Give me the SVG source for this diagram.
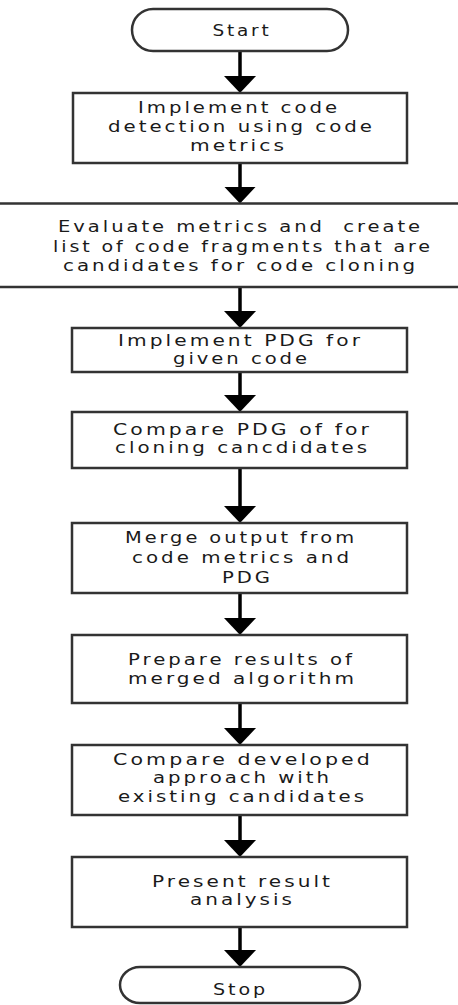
<svg xmlns="http://www.w3.org/2000/svg" width="458" height="1005" viewBox="0 0 458 1005">
<style>
.box{fill:#ffffff;stroke:#333333;stroke-width:2.5}
.term{fill:#ffffff;stroke:#333333;stroke-width:2.5}
.conn{stroke:#000000;stroke-width:3.5;fill:none}
text{font-family:"DejaVu Sans","Liberation Sans",sans-serif;font-size:16.5px;letter-spacing:2.5px;fill:#1a1a1a;text-anchor:middle}
</style>
<defs>
<marker id="arr" markerUnits="userSpaceOnUse" markerWidth="17" markerHeight="32" viewBox="0 0 17 32" refX="9" refY="16" orient="auto">
<path d="M0,0 L17,16 L0,32 Z" fill="#000000"/>
</marker>
</defs>
<rect width="458" height="1005" fill="#ffffff"/>
<g id="connectors">
<line class="conn" x1="240" y1="51" x2="240" y2="85" marker-end="url(#arr)"/>
<line class="conn" x1="240" y1="163" x2="240" y2="195.5" marker-end="url(#arr)"/>
<line class="conn" x1="240" y1="287" x2="240" y2="320" marker-end="url(#arr)"/>
<line class="conn" x1="240" y1="372" x2="240" y2="404" marker-end="url(#arr)"/>
<line class="conn" x1="240" y1="468" x2="240" y2="515" marker-end="url(#arr)"/>
<line class="conn" x1="240" y1="593" x2="240" y2="627" marker-end="url(#arr)"/>
<line class="conn" x1="240" y1="703" x2="240" y2="737" marker-end="url(#arr)"/>
<line class="conn" x1="240" y1="815" x2="240" y2="849" marker-end="url(#arr)"/>
<line class="conn" x1="240" y1="927" x2="240" y2="959" marker-end="url(#arr)"/>
</g>
<g id="start">
<rect class="term" x="132" y="9" width="216" height="42" rx="21" ry="21"/>
<text x="242" y="36" textLength="59" lengthAdjust="spacingAndGlyphs">Start</text>
</g>
<g id="step1">
<rect class="box" x="73" y="93" width="334" height="70"/>
<text x="239" y="113" textLength="202" lengthAdjust="spacingAndGlyphs">Implement code</text>
<text x="241.5" y="131.5" textLength="267" lengthAdjust="spacingAndGlyphs">detection using code</text>
<text x="238.5" y="150.5" textLength="97" lengthAdjust="spacingAndGlyphs">metrics</text>
</g>
<g id="step2">
<rect class="box" x="-10" y="203.5" width="478" height="83.5"/>
<text x="240.5" y="231.5" textLength="365" lengthAdjust="spacingAndGlyphs" xml:space="preserve">Evaluate metrics and  create</text>
<text x="243" y="251.5" textLength="380" lengthAdjust="spacingAndGlyphs">list of code fragments that are</text>
<text x="240.5" y="271" textLength="355" lengthAdjust="spacingAndGlyphs">candidates for code cloning</text>
</g>
<g id="step3">
<rect class="box" x="72" y="328" width="335" height="44"/>
<text x="240.5" y="346" textLength="245" lengthAdjust="spacingAndGlyphs">Implement PDG for</text>
<text x="241.5" y="364" textLength="137" lengthAdjust="spacingAndGlyphs">given code</text>
</g>
<g id="step4">
<rect class="box" x="72" y="412" width="335" height="56"/>
<text x="242.5" y="434.5" textLength="259" lengthAdjust="spacingAndGlyphs">Compare PDG of for</text>
<text x="242.5" y="452.5" textLength="255" lengthAdjust="spacingAndGlyphs">cloning cancdidates</text>
</g>
<g id="step5">
<rect class="box" x="72" y="523" width="335" height="70"/>
<text x="241" y="543" textLength="232" lengthAdjust="spacingAndGlyphs">Merge output from</text>
<text x="242" y="562.5" textLength="220" lengthAdjust="spacingAndGlyphs">code metrics and</text>
<text x="247.5" y="582.5" textLength="51" lengthAdjust="spacingAndGlyphs">PDG</text>
</g>
<g id="step6">
<rect class="box" x="72" y="635" width="335" height="68"/>
<text x="241.5" y="665" textLength="227" lengthAdjust="spacingAndGlyphs">Prepare results of</text>
<text x="242.5" y="684" textLength="229" lengthAdjust="spacingAndGlyphs">merged algorithm</text>
</g>
<g id="step7">
<rect class="box" x="72" y="745" width="335" height="70"/>
<text x="243" y="765" textLength="260" lengthAdjust="spacingAndGlyphs">Compare developed</text>
<text x="242.5" y="783" textLength="179" lengthAdjust="spacingAndGlyphs">approach with</text>
<text x="242.5" y="801.5" textLength="249" lengthAdjust="spacingAndGlyphs">existing candidates</text>
</g>
<g id="step8">
<rect class="box" x="72" y="857" width="335" height="70"/>
<text x="242.5" y="886.5" textLength="181" lengthAdjust="spacingAndGlyphs">Present result</text>
<text x="242.5" y="905" textLength="105" lengthAdjust="spacingAndGlyphs">analysis</text>
</g>
<g id="stop">
<rect class="term" x="120" y="967" width="240" height="36" rx="20" ry="18"/>
<text x="240.5" y="995" textLength="55" lengthAdjust="spacingAndGlyphs">Stop</text>
</g>
</svg>
